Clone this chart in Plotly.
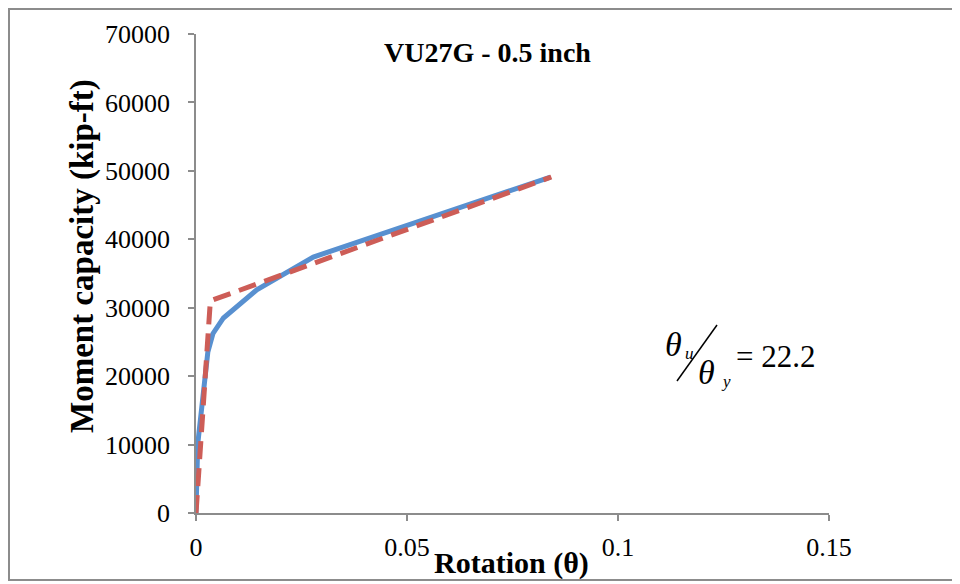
import plotly.graph_objects as go

# Data
rot_fe = [0.0, 0.0004, 0.0028, 0.0040, 0.0065, 0.0144, 0.0278, 0.0840]
mom_fe = [0, 10000, 23500, 26200, 28500, 32600, 37400, 49100]

rot_bl = [0.0, 0.0034, 0.0842]
mom_bl = [0, 31000, 49100]

x_ticks = [0, 0.05, 0.1, 0.15]
x_tick_labels = ["0", "0.05", "0.1", "0.15"]
y_ticks = [0, 10000, 20000, 30000, 40000, 50000, 60000, 70000]
y_tick_labels = ["0", "10000", "20000", "30000", "40000", "50000", "60000", "70000"]

title_text = "VU27G - 0.5 inch"
x_title = "Rotation (θ)"
y_title = "Moment capacity (kip-ft)"
ratio_text = "= 22.2"

W, H = 960, 584
OFF = 8  # page body margin in the browser
L, R, T, B = 196, 829, 34, 513  # plot area in screen pixels

def px(x):
    return (x - L) / (R - L)

def py(y):
    return (B - y) / (B - T)

FONT = "Liberation Serif"

fig = go.Figure()
fig.add_trace(go.Scatter(x=rot_fe, y=mom_fe, mode="lines",
                         line=dict(color="#5890D0", width=5), showlegend=False))
fig.add_trace(go.Scatter(x=rot_bl, y=mom_bl, mode="lines",
                         line=dict(color="#CD5D57", width=5, dash="18px,9px"), showlegend=False))

axis_common = dict(showgrid=False, zeroline=False, showline=True, linecolor="#8C8C8C",
                   linewidth=1.5, ticks="outside", tickcolor="#8C8C8C", ticklen=6,
                   tickwidth=1.5, tickfont=dict(family=FONT, size=26, color="black"))

fig.update_layout(
    width=W, height=H,
    margin=dict(l=L - OFF, r=W - (R - OFF), t=T - OFF, b=H - (B - OFF), autoexpand=False),
    plot_bgcolor="white", paper_bgcolor="white",
    xaxis=dict(range=[0, 0.15], tickvals=x_ticks, ticktext=x_tick_labels,
               ticklabelstandoff=4, **axis_common),
    yaxis=dict(range=[0, 70000], tickvals=y_ticks, ticktext=y_tick_labels,
               ticklabelstandoff=13, **axis_common),
)

def note(text, x, y, size, xanchor="center", angle=0):
    return dict(text=text, x=px(x), y=py(y), xref="paper", yref="paper",
                xanchor=xanchor, yanchor="middle", showarrow=False, textangle=angle,
                font=dict(family=FONT, size=size, color="black"))

ann = [
    note("<b>" + title_text + "</b>", 487, 52, 28),
    note("<b>" + x_title + "</b>", 511, 563, 30),
    note("<b>" + y_title + "</b>", 83, 256, 33, angle=-90),
    # ratio annotation  theta_u / theta_y = 22.2
    note("<i>θ</i>", 673, 345, 34, xanchor="right" if False else "center"),
    note("<i>u</i>", 689, 353, 17),
    note("<i>θ</i>", 706, 372, 34),
    note("<i>y</i>", 726, 381, 17),
    note(ratio_text, 734, 356, 31, xanchor="left"),
]
fig.update_layout(annotations=ann)

fig.add_shape(type="line", xref="paper", yref="paper", x0=px(677), y0=py(381), x1=px(717), y1=py(325),
              line=dict(color="black", width=1.5))
fig.add_shape(type="rect", xref="paper", yref="paper", x0=px(9), y0=py(580), x1=px(975), y1=py(9),
              line=dict(color="#8C8C8C", width=2), layer="below")

fig.write_html("out.html")
